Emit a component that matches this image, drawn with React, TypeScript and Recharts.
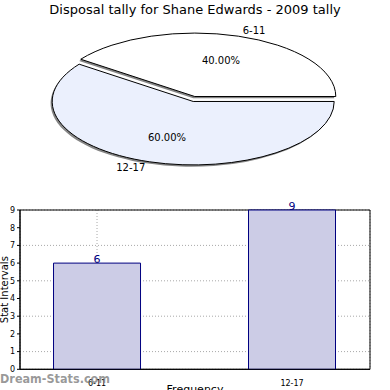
import React from 'react';
import {
  PieChart, Pie, BarChart, Bar, XAxis, YAxis, CartesianGrid, LabelList, ReferenceArea,
} from 'recharts';

const title = 'Disposal tally for Shane Edwards - 2009 tally';
const categories = ['6-11', '12-17'];
const counts = [6, 9];
const sliceColors = ['#ffffff', '#ebf0fd'];
const yTicks = [0, 1, 2, 3, 4, 5, 6, 7, 8, 9];

const FONT = '"DejaVu Sans", sans-serif';
const RAD = Math.PI / 180;
const SQUASH = 0.45; // pie drawn as an ellipse
const EXPLODE = 2.6;
const X_DOMAIN: [number, number] = [-0.395, 1.4];

const pieData = categories.map((name, i) => ({ name, value: counts[i] }));
const barData = categories.map((name, i) => ({ pos: i, name, count: counts[i] }));

// draws each slice (shadow + elliptical wedge) plus its two labels from the angles Recharts computes
const renderSlice = (props: any) => {
  const { cx, cy, outerRadius, startAngle, endAngle, midAngle, index, percent, name } = props;
  const rx = outerRadius;
  const ry = outerRadius * SQUASH;
  const m = midAngle * RAD;
  const ox = cx + EXPLODE * Math.cos(m);
  const oy = cy - EXPLODE * Math.sin(m);
  const pt = (a: number, k = 1) => [ox + k * rx * Math.cos(a * RAD), oy - k * ry * Math.sin(a * RAD)];
  const [sx, sy] = pt(startAngle);
  const [ex, ey] = pt(endAngle);
  const large = Math.abs(endAngle - startAngle) > 180 ? 1 : 0;
  const d = `M${ox},${oy} L${sx},${sy} A${rx},${ry} 0 ${large} 0 ${ex},${ey} Z`;
  const [px, py] = pt(midAngle, 0.6);
  const [lx, ly] = pt(midAngle, 1.1);
  const right = Math.cos(m) >= 0;
  return (
    <g key={`slice-${index}`}>
      <path d={d} transform="translate(-1.6,1.8)" fill="#666" fillOpacity={0.8} stroke="none" />
      <path d={d} fill={sliceColors[index]} stroke="#000" strokeWidth={1} />
      <text x={px} y={py} textAnchor="middle" dominantBaseline="central" fontSize={10} fontFamily={FONT} fill="#000">
        {`${(percent * 100).toFixed(2)}%`}
      </text>
      <text x={lx} y={ly} textAnchor={right ? 'start' : 'end'} dominantBaseline="central" fontSize={10} fontFamily={FONT} fill="#000">
        {name}
      </text>
    </g>
  );
};

const YLabel = (props: any) => {
  const { viewBox } = props;
  const x = 4.5;
  const y = viewBox.y + viewBox.height / 2;
  return (
    <text x={x} y={y} transform={`rotate(-90, ${x}, ${y})`} textAnchor="middle" dominantBaseline="central" fontSize={10} fontFamily={FONT} fill="#000">
      Stat Intervals
    </text>
  );
};

export default function App() {
  return (
    <div style={{ position: 'absolute', left: 0, top: 0, width: 390, height: 390, background: '#fff', overflow: 'hidden' }}>
      <div style={{ position: 'absolute', left: 0, top: 2, width: 390, textAlign: 'center', fontFamily: FONT, fontSize: 13, lineHeight: '16px', color: '#000' }}>
        {title}
      </div>
      <div style={{ position: 'absolute', left: 0, top: 0 }}>
        <PieChart width={390} height={190} margin={{ top: 0, right: 0, bottom: 0, left: 0 }}>
          <Pie
            data={pieData}
            dataKey="value"
            nameKey="name"
            cx={194}
            cy={99}
            outerRadius={141}
            startAngle={0}
            endAngle={360}
            fill="none"
            stroke="none"
            labelLine={false}
            label={renderSlice}
            isAnimationActive={false}
          />
        </PieChart>
      </div>
      <div style={{ position: 'absolute', left: 0, top: 190 }}>
        <BarChart width={390} height={200} data={barData} margin={{ top: 20, right: 20, bottom: 0, left: 0 }}>
          <XAxis
            type="number"
            dataKey="pos"
            domain={X_DOMAIN}
            ticks={[0, 1]}
            allowDataOverflow
            tickFormatter={(v: number) => categories[v]}
            height={20.7}
            tickLine={false}
            tickMargin={5}
            axisLine={{ stroke: '#000' }}
            tick={{ fontSize: 8, fill: '#000', fontFamily: FONT }}
            label={{ value: 'Frequency', position: 'insideBottom', offset: -3, fontSize: 11, fill: '#000', fontFamily: FONT }}
          />
          <YAxis
            type="number"
            domain={[0, 9]}
            ticks={yTicks}
            width={20}
            tickSize={3}
            tickMargin={2}
            axisLine={{ stroke: '#000' }}
            tickLine={{ stroke: '#000' }}
            tick={{ fontSize: 8, fill: '#000', fontFamily: FONT }}
            label={<YLabel />}
          />
          <Bar dataKey="count" barSize={87} fill="#ccccE6" stroke="#000080" strokeWidth={1} isAnimationActive={false}>
            <LabelList dataKey="count" position="top" offset={0} fill="#000080" fontSize={11} fontFamily={FONT} />
          </Bar>
          <CartesianGrid stroke="#a8a8a8" strokeDasharray="1 2" />
          <ReferenceArea x1={X_DOMAIN[0]} x2={X_DOMAIN[1]} y1={0} y2={9} fill="none" stroke="#000" strokeWidth={1} />
        </BarChart>
      </div>
      <div style={{ position: 'absolute', left: 0, top: 371, fontFamily: '"DejaVu Sans Condensed", "DejaVu Sans", sans-serif', fontSize: 12.5, fontWeight: 'bold', color: 'rgba(120,120,120,0.75)', lineHeight: '15px' }}>
        Dream-Stats.com
      </div>
    </div>
  );
}
